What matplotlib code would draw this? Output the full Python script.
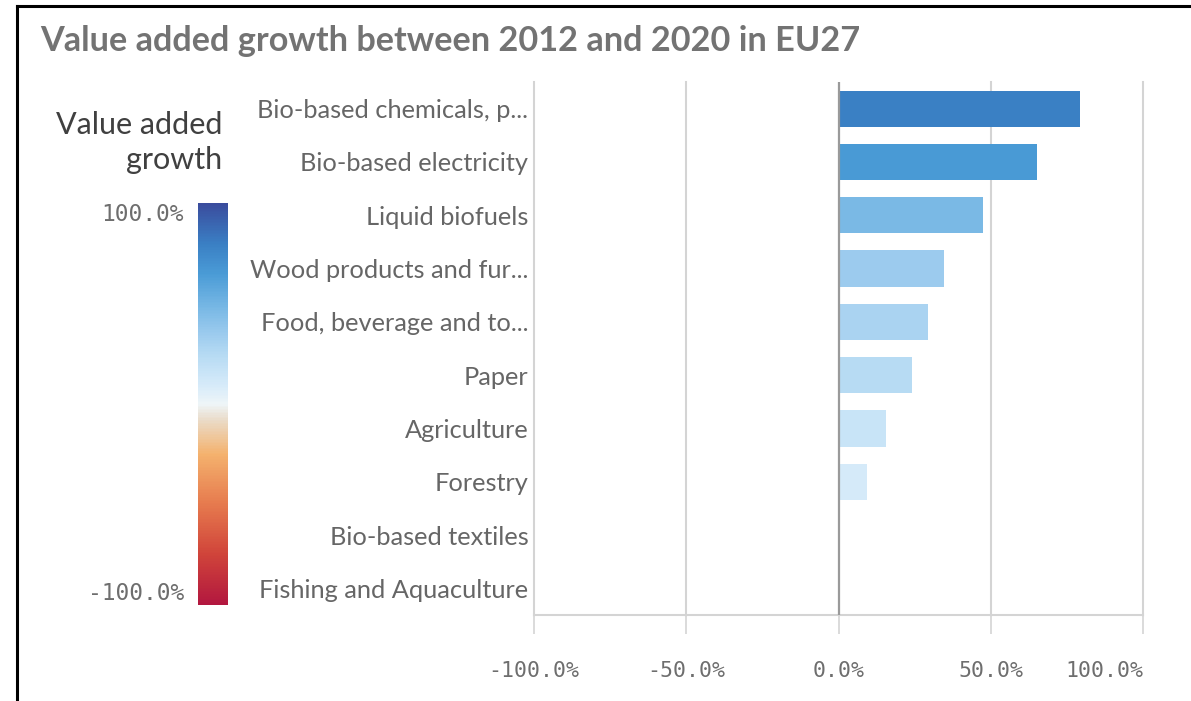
import matplotlib
matplotlib.use("Agg")
import matplotlib.pyplot as plt
from matplotlib.colors import LinearSegmentedColormap, Normalize
from matplotlib.lines import Line2D
import matplotlib.cm as cm

# data
sectors = ["Bio-based chemicals, p...", "Bio-based electricity", "Liquid biofuels",
           "Wood products and fur...", "Food, beverage and to...", "Paper",
           "Agriculture", "Forestry", "Bio-based textiles", "Fishing and Aquaculture"]
growth = [79.4, 65.3, 47.5, 34.5, 29.5, 24.0, 15.7, 9.5, 0.5, 0.3]

xticks = [-100, -50, 0, 50, 100]
xtick_labels = ["-100.0%", "-50.0%", "0.0%", "50.0%", "100.0%"]

# diverging colour scale red -> white -> blue
cmap = LinearSegmentedColormap.from_list("va", [
    (0.000, "#b2173f"), (0.125, "#d0443a"), (0.250, "#e67a4e"),
    (0.375, "#f4b26e"), (0.460, "#eadbc8"), (0.500, "#eef5f8"),
    (0.550, "#d5eaf9"), (0.625, "#b5daf3"), (0.675, "#9ccbee"),
    (0.740, "#78b8e5"), (0.825, "#4a9bd6"), (0.900, "#3a7fc4"),
    (1.000, "#3a4c9d")])
norm = Normalize(-100, 100)

label_font = "Lato"
mono_font = "DejaVu Sans Mono"
grey = "#6e6e6e"

fig = plt.figure(figsize=(11.91, 7.01), dpi=100)
ax = fig.add_axes([0.4484, 0.1227, 0.5113, 0.7603])

ypos = list(range(len(sectors)))
ax.barh(ypos, growth, height=0.68, color=cmap(norm(growth)), zorder=2)
ax.set_ylim(len(sectors) - 0.5, -0.5)
ax.set_xlim(-100, 100)

for x in xticks:
    if x == 0:
        ax.axvline(0, color="#9a9a9a", lw=1.6, zorder=3)
    else:
        ax.axvline(x, color="#d4d4d4", lw=1.5, zorder=1, clip_on=False)

ax.set_yticks(ypos)
ax.set_yticklabels(sectors, fontsize=18.3, color="#666666", family=label_font)
ax.tick_params(axis="y", length=0, pad=4)

ax.set_xticks(xticks)
ax.set_xticklabels(xtick_labels, fontsize=15.5, color=grey, family=mono_font)
ax.tick_params(axis="x", length=14, width=1.2, color="#d4d4d4", pad=19, direction="out")
ax.get_xticklabels()[-1].set_ha("right")  # last label kept inside the plot

for s in ["top", "right", "left"]:
    ax.spines[s].set_visible(False)
ax.spines["bottom"].set_color("#d4d4d4")
ax.spines["bottom"].set_linewidth(1.5)

# colour legend
fig.text(0.1864, 0.797, "Value added\ngrowth", ha="right", va="center",
         fontsize=22, color="#404040", family=label_font, linespacing=1.32)
cax = fig.add_axes([0.1662, 0.137, 0.0252, 0.5735])
cb = fig.colorbar(cm.ScalarMappable(norm=norm, cmap=cmap), cax=cax)
cb.outline.set_visible(False)
cb.set_ticks([100, -100])
cb.set_ticklabels(["100.0%", "-100.0%"])
cax.yaxis.set_ticks_position("left")
cax.tick_params(length=0, pad=10, labelsize=16.5, labelcolor=grey)
labs = cax.get_yticklabels()
labs[0].set_va("top")
labs[1].set_va("bottom")
for t in labs:
    t.set_family(mono_font)

fig.text(0.034, 0.941, "Value added growth between 2012 and 2020 in EU27",
         fontsize=24.7, fontweight="bold", color="#737373", va="center",
         family=label_font)

# black frame on top and left
fig.add_artist(Line2D([0.0143, 1.0], [0.9915, 0.9915], color="black", lw=2.2))
fig.add_artist(Line2D([0.0143, 0.0143], [0.0, 0.9915], color="black", lw=2.2))

fig.savefig("out.png", dpi=100)
